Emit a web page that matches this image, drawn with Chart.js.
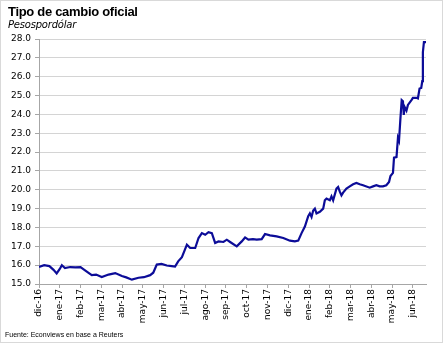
<!DOCTYPE html>
<html>
<head>
<meta charset="utf-8">
<script src="https://cdn.jsdelivr.net/npm/chart.js@4"></script>
<style>
    html, body { margin: 0; padding: 0; background: #fff; }
    #wrap { position: relative; width: 443px; height: 343px; box-sizing: border-box; border: 1px solid #d9d9d9; overflow: hidden; }
    #chart { position: absolute; left: -1px; top: -1px; }
    .title { position: absolute; left: 7px; top: 3px; font: bold 13px "Liberation Sans", Arial, sans-serif; letter-spacing: -0.3px; color: #000; }
    .subtitle { position: absolute; left: 7px; top: 18px; font: italic 10px "DejaVu Sans", sans-serif; word-spacing: -3px; letter-spacing: -0.2px; color: #000; }
    .source { position: absolute; left: 4px; top: 330px; font: 7px "Liberation Sans", Arial, sans-serif; color: #000; }
</style>
</head>
<body>
<div id="wrap">
    <canvas id="chart" width="443" height="343"></canvas>
    <div class="title">Tipo de cambio oficial</div>
    <div class="subtitle">Pesos por dólar</div>
    <div class="source">Fuente: Econviews en base a Reuters</div>
</div>
<script>
// month labels on the x axis (0 = dic-16)
const monthLabels = ['dic-16', 'ene-17', 'feb-17', 'mar-17', 'abr-17', 'may-17', 'jun-17', 'jul-17',
    'ago-17', 'sep-17', 'oct-17', 'nov-17', 'dic-17', 'ene-18', 'feb-18', 'mar-18', 'abr-18', 'may-18', 'jun-18'];

// position of each observation, in months since the start of dic-16
const monthPos = [
    0, 0.25, 0.5, 0.7, 0.85, 1.0, 1.1, 1.25, 1.5, 1.75, 2.0, 2.25, 2.54, 2.75, 3.02, 3.35,
    3.67, 3.99, 4.2, 4.47, 4.79, 5.05, 5.35, 5.5, 5.67, 5.9, 6.15, 6.39, 6.55, 6.7, 6.88, 7.12,
    7.28, 7.52, 7.68, 7.84, 8.0, 8.16, 8.32, 8.48, 8.64, 8.88, 9.04, 9.2, 9.52, 9.76, 9.92, 10.08,
    10.3, 10.48, 10.72, 10.88, 11.12, 11.44, 11.76, 12.08, 12.32, 12.48, 12.64, 12.8, 12.96, 13.04,
    13.12, 13.2, 13.28, 13.36, 13.52, 13.68, 13.76, 13.84, 14.0, 14.08, 14.16, 14.32, 14.4, 14.48,
    14.56, 14.64, 14.8, 14.96, 15.12, 15.28, 15.44, 15.6, 15.92, 16.08, 16.24, 16.4, 16.56, 16.72,
    16.85, 16.92, 17.04, 17.09, 17.21, 17.28, 17.33, 17.4, 17.46, 17.52, 17.56, 17.6, 17.69, 17.76,
    17.93, 18.0, 18.17, 18.24, 18.32, 18.4, 18.45, 18.48, 18.53, 18.63
];

// pesos per dollar
const rate = [
    15.91, 16.00, 15.95, 15.75, 15.56, 15.80, 16.00, 15.85, 15.90, 15.88, 15.90, 15.70, 15.47, 15.50, 15.37, 15.50,
    15.58, 15.42, 15.35, 15.23, 15.33, 15.36, 15.47, 15.60, 16.03, 16.07, 15.98, 15.95, 15.92, 16.20, 16.42, 17.09,
    16.91, 16.91, 17.44, 17.70, 17.61, 17.75, 17.70, 17.18, 17.26, 17.23, 17.35, 17.23, 17.00, 17.26, 17.47, 17.35,
    17.38, 17.35, 17.38, 17.65, 17.58, 17.53, 17.44, 17.30, 17.26, 17.30, 17.70, 18.05, 18.60, 18.75,
    18.56, 18.90, 19.00, 18.74, 18.83, 19.00, 19.44, 19.53, 19.44, 19.65, 19.44, 20.06, 20.15, 19.90,
    19.70, 19.85, 20.06, 20.18, 20.29, 20.36, 20.29, 20.24, 20.11, 20.18, 20.24, 20.18, 20.18, 20.24,
    20.41, 20.73, 20.90, 21.70, 21.73, 22.75, 22.60, 23.80, 24.76, 24.70, 23.97, 24.40, 24.20, 24.50,
    24.76, 24.88, 24.88, 24.85, 25.37, 25.40, 25.76, 27.30, 27.83, 27.83
];

const yMin = 15;
const yMax = 28;
const xMax = 18.63;

const tickFont = { family: 'DejaVu Sans', size: 9 };

const ctx = document.getElementById('chart').getContext('2d');
new Chart(ctx, {
    type: 'line',
    data: {
        datasets: [{
            label: 'Tipo de cambio oficial',
            data: monthPos.map((m, i) => ({ x: m, y: rate[i] })),
            borderColor: '#0c0c98',
            borderWidth: 2.2,
            pointRadius: 0,
            tension: 0,
            fill: false
        }]
    },
    options: {
        responsive: false,
        animation: false,
        layout: {
            padding: { left: 0, top: 39, right: 17, bottom: 18 }
        },
        scales: {
            x: {
                type: 'linear',
                min: 0,
                max: xMax,
                afterFit: function (scale) { scale.height = 41; },
                border: { color: '#a6a6a6', width: 1 },
                grid: {
                    drawOnChartArea: false,
                    drawTicks: true,
                    tickLength: 4,
                    tickColor: '#a6a6a6'
                },
                ticks: {
                    stepSize: 1,
                    includeBounds: false,
                    autoSkip: false,
                    minRotation: 90,
                    maxRotation: 90,
                    padding: 1,
                    color: '#000',
                    font: tickFont,
                    callback: function (value) {
                        return Number.isInteger(value) ? monthLabels[value] : '';
                    }
                }
            },
            y: {
                min: yMin,
                max: yMax,
                afterFit: function (scale) { scale.width = 39; },
                border: { color: '#a6a6a6', width: 1 },
                grid: {
                    color: '#d4d4d4',
                    borderDash: [4, 3],
                    tickLength: 4,
                    tickColor: '#a6a6a6',
                    tickBorderDash: []
                },
                ticks: {
                    stepSize: 1,
                    padding: 4,
                    color: '#000',
                    font: tickFont,
                    callback: function (value) { return value.toFixed(1); }
                }
            }
        },
        plugins: {
            legend: { display: false },
            tooltip: { enabled: false }
        }
    }
});
</script>
</body>
</html>
